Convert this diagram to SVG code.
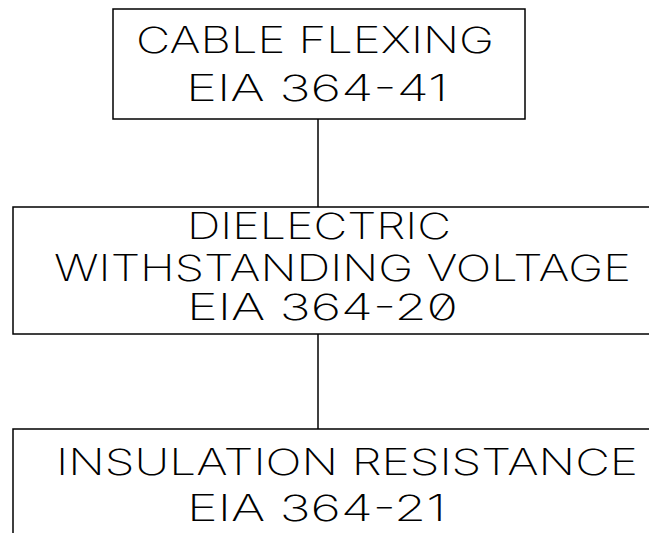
<svg xmlns="http://www.w3.org/2000/svg" width="649" height="533" viewBox="0 0 649 533">
<style>
.box{fill:#fff;stroke:#000;stroke-width:1.5}
.t{font-family:Inter,"Liberation Sans",sans-serif;font-weight:200;font-size:36px;fill:#000;font-feature-settings:"zero" 1}
.c{stroke:#000;stroke-width:1.5;fill:none}
</style>
<rect width="649" height="533" fill="#fff"/>
<g id="connectors">
<line class="c" x1="318" y1="119" x2="318" y2="207"/>
<line class="c" x1="318" y1="334" x2="318" y2="429"/>
</g>
<g id="node1">
<rect class="box" x="113" y="9" width="412" height="110"/>
<text class="t" x="136" y="53" textLength="358" lengthAdjust="spacingAndGlyphs">CABLE FLEXING</text>
<text class="t" x="186" y="101" textLength="262" lengthAdjust="spacingAndGlyphs">EIA 364-41</text>
</g>
<g id="node2">
<rect class="box" x="13" y="207" width="660" height="127"/>
<text class="t" x="187" y="239" textLength="264" lengthAdjust="spacingAndGlyphs">DIELECTRIC</text>
<text class="t" x="54" y="281" textLength="577" lengthAdjust="spacingAndGlyphs">WITHSTANDING VOLTAGE</text>
<text class="t" x="187" y="320" textLength="271" lengthAdjust="spacingAndGlyphs">EIA 364-20</text>
</g>
<g id="node3">
<rect class="box" x="13" y="429" width="660" height="130"/>
<text class="t" x="56" y="475" textLength="582" lengthAdjust="spacingAndGlyphs">INSULATION RESISTANCE</text>
<text class="t" x="187" y="521" textLength="259" lengthAdjust="spacingAndGlyphs">EIA 364-21</text>
</g>
</svg>
